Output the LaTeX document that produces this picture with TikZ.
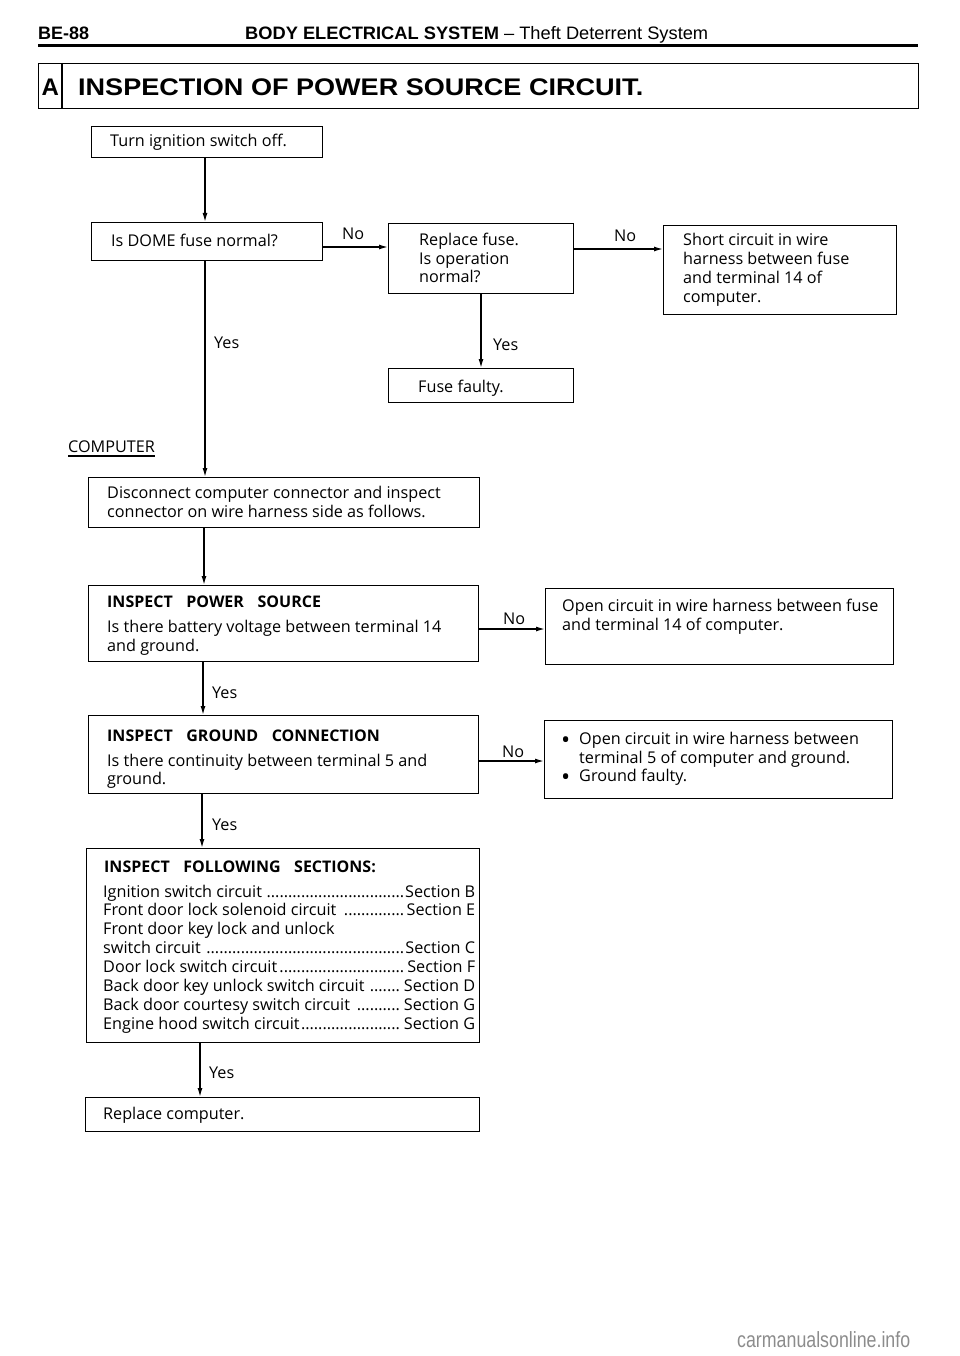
\documentclass[tikz,border=0pt]{standalone}
\usepackage{fontspec}
\usepackage{graphicx}
\setmainfont{Open Sans}
\newfontfamily\hdr{Liberation Sans}
\usetikzlibrary{arrows.meta}
\newcommand\lead{\leaders\hbox to 4.3pt{\hss.\hss}\hfill}
\newcommand\wsp{\hspace{0.85em}}
\newcommand\bul{\raisebox{-4.3pt}{\scalebox{1.5}{•}}}
\newcommand\bx[5]{\node[box, minimum width={#4-#2}, minimum height={#5-#3}] (#1) at (#2,#3) {};}
\begin{document}
\begin{tikzpicture}[x=1pt,y=-1pt,
  font=\fontsize{16.2}{19}\selectfont,
  box/.style={draw, line width=1.4pt, inner sep=0pt, anchor=north west},
  txt/.style={inner sep=0pt, anchor=base west},
  bold/.style={font=\bfseries\fontsize{16}{19}\selectfont},
  arr/.style={line width=1.4pt, -{Latex[length=9pt,width=5pt]}}]
\useasboundingbox (0,0) rectangle (960,1356);
% header
\node[txt, font=\hdr\bfseries\fontsize{18}{20}\selectfont] (pg) at (38,40) {BE-88};
\node[txt, font=\hdr\fontsize{18}{20}\selectfont] (hd) at (245,40) {\resizebox{463pt}{\height}{\bfseries BODY ELECTRICAL SYSTEM\mdseries{} \textendash{} Theft Deterrent System}};
\coordinate (rl) at (38,45.5);
\coordinate (rr) at (918,45.5);
\draw[line width=3pt] (rl) -- (rr);
% title box
\bx{title}{38}{63}{918}{108}
\draw[line width=1.4pt] ([xshift=24pt]title.north west) -- ([xshift=24pt]title.south west);
\node[txt, font=\hdr\bfseries\fontsize{24}{26}\selectfont] (ta) at (42,96) {\makebox[16pt]{A}};
\node[txt, font=\hdr\bfseries\fontsize{24}{26}\selectfont] (tt) at (78,96) {\resizebox{565pt}{\height}{INSPECTION OF POWER SOURCE CIRCUIT.}};
% boxes
\bx{turn}{91}{126}{322}{157}
\bx{dome}{91}{222}{322}{260}
\bx{repl}{388}{223}{573}{293}
\bx{fuse}{388}{368}{573}{402}
\bx{short}{663}{225}{896}{314}
\bx{disc}{88}{477}{479}{527}
\bx{pow}{88}{585}{478}{661}
\bx{open1}{545}{588}{893}{664}
\bx{gnd}{88}{715}{478}{793}
\bx{open2}{544}{720}{892}{798}
\bx{foll}{86}{848}{479}{1042}
\bx{rcomp}{85}{1097}{479}{1131}
% arrows
\draw[arr] ([xshift=114pt]turn.south west) -- ([xshift=114pt]dome.north west);
\draw[arr] ([xshift=114pt]dome.south west) -- ([xshift=117pt]disc.north west);
\draw[arr] ([xshift=116pt]disc.south west) -- ([xshift=116pt]pow.north west);
\draw[arr] ([xshift=115pt]pow.south west) -- ([xshift=115pt]gnd.north west);
\draw[arr] ([xshift=114pt]gnd.south west) -- ([xshift=116pt]foll.north west);
\draw[arr] ([xshift=114pt]foll.south west) -- ([xshift=115pt]rcomp.north west);
\draw[arr] ([xshift=93pt]repl.south west) -- ([xshift=93pt]fuse.north west);
\draw[arr] ([yshift=-25pt]dome.north east) -- ([yshift=-24pt]repl.north west);
\draw[arr] ([yshift=-26pt]repl.north east) -- ([yshift=-24pt]short.north west);
\draw[arr] ([yshift=-44pt]pow.north east) -- ([yshift=-41pt]open1.north west);
\draw[arr] ([yshift=-46pt]gnd.north east) -- ([yshift=-41pt]open2.north west);
% labels
\node[txt] (l1) at (342,240) {No};
\node[txt] (l2) at (214,348) {Yes};
\node[txt] (l3) at (493,350) {Yes};
\node[txt] (l4) at (614,241) {No};
\node[txt] (l5) at (503,624) {No};
\node[txt] (l6) at (212,698) {Yes};
\node[txt] (l7) at (502,757) {No};
\node[txt] (l8) at (212,830) {Yes};
\node[txt] (l9) at (209,1078) {Yes};
% texts
\node[txt] (t1) at (110,147) {Turn ignition switch off.};
\node[txt] (t2) at (111,247) {Is DOME fuse normal?};
\node[txt] (t3a) at (419,245) {Replace fuse.};
\node[txt] (t3b) at (419,264) {Is operation};
\node[txt] (t3c) at (419,282) {normal?};
\node[txt] (t4) at (418,392) {Fuse faulty.};
\node[txt] (t5a) at (683,245) {Short circuit in wire};
\node[txt] (t5b) at (683,264) {harness between fuse};
\node[txt] (t5c) at (683,283) {and terminal 14 of};
\node[txt] (t5d) at (683,302) {computer.};
\node[txt] (comp) at (68,452) {COMPUTER};
\draw[line width=1.2pt] ([yshift=-4pt]comp.base west) -- ([yshift=-4pt]comp.base east);
\node[txt] (t6a) at (107,498) {Disconnect computer connector and inspect};
\node[txt] (t6b) at (107,517) {connector on wire harness side as follows.};
\node[txt, bold] (t7a) at (107,607) {INSPECT\wsp POWER\wsp SOURCE};
\node[txt] (t7b) at (107,632) {Is there battery voltage between terminal 14};
\node[txt] (t7c) at (107,651) {and ground.};
\node[txt] (t8a) at (562,611) {Open circuit in wire harness between fuse};
\node[txt] (t8b) at (562,630) {and terminal 14 of computer.};
\node[txt, bold] (t9a) at (107,741) {INSPECT\wsp GROUND\wsp CONNECTION};
\node[txt] (t9b) at (107,766) {Is there continuity between terminal 5 and};
\node[txt] (t9c) at (107,784) {ground.};
\node[txt] (b1) at (561,744) {\bul};
\node[txt] (t10a) at (579,744) {Open circuit in wire harness between};
\node[txt] (t10b) at (579,763) {terminal 5 of computer and ground.};
\node[txt] (b2) at (561,781) {\bul};
\node[txt] (t10c) at (579,781) {Ground faulty.};
\node[txt, bold] (t11) at (104,872) {INSPECT\wsp FOLLOWING\wsp SECTIONS:};
\node[txt] (s1) at (103,897) {\makebox[372pt][l]{Ignition switch circuit \lead Section B}};
\node[txt] (s2) at (103,915) {\makebox[372pt][l]{Front door lock solenoid circuit \lead Section E}};
\node[txt] (s3) at (103,934) {Front door key lock and unlock};
\node[txt] (s4) at (103,953) {\makebox[372pt][l]{switch circuit \lead Section C}};
\node[txt] (s5) at (103,972) {\makebox[372pt][l]{Door lock switch circuit\lead Section F}};
\node[txt] (s6) at (103,991) {\makebox[372pt][l]{Back door key unlock switch circuit \lead Section D}};
\node[txt] (s7) at (103,1010) {\makebox[372pt][l]{Back door courtesy switch circuit \lead Section G}};
\node[txt] (s8) at (103,1029) {\makebox[372pt][l]{Engine hood switch circuit\lead Section G}};
\node[txt] (t12) at (103,1119) {Replace computer.};
% watermark
\node[txt, text=black!45, font=\hdr\fontsize{22}{24}\selectfont] (wm) at (737,1347) {\resizebox{173pt}{\height}{carmanualsonline.info}};
\end{tikzpicture}
\end{document}
